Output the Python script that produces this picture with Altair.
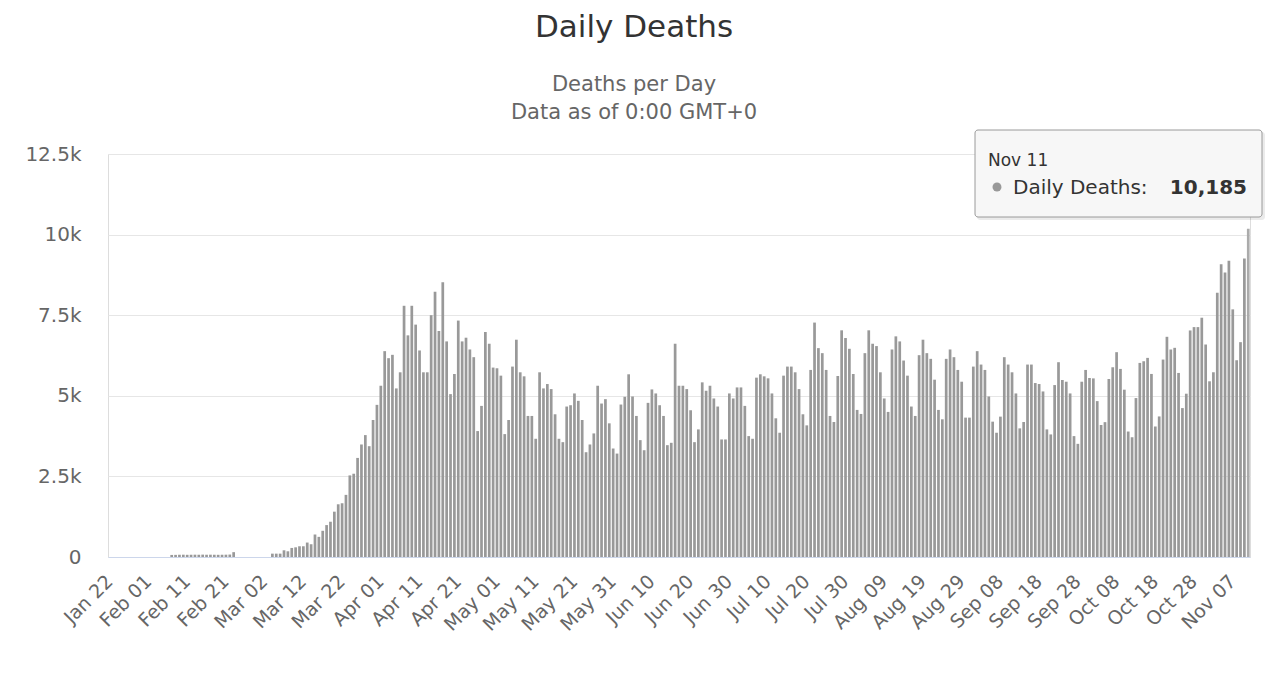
import altair as alt
import pandas as pd

# ---- data ----
JAN = [0, 0, 0, 0, 0, 0, 0, 0, 0, 0]  # Jan 22 - Jan 31
FEB = [0, 0, 0, 0, 0, 0,
       64, 66, 70, 72, 68, 70, 72, 70, 74, 70, 72, 70, 68, 70, 72, 76,
       150, 0, 0, 0, 0, 0, 0]
MAR = [0, 0, 0, 104, 104, 104, 208, 177, 281, 300, 333, 333, 448, 396, 698, 625,
       813, 990, 1094, 1406, 1635, 1667, 1927, 2531, 2583, 3073, 3490, 3781, 3437,
       4250, 4719]
APR = [5312, 6385, 6167, 6271, 5229, 5729, 7792, 6875, 7792, 7208, 6406, 5729, 5729,
       7500, 8229, 7010, 8521, 6687, 5052, 5677, 7333, 6687, 6802, 6437, 6198, 3906,
       4687, 6979, 6615, 5875]
MAY = [5854, 5625, 3812, 4250, 5906, 6740, 5729, 5604, 4375, 4375, 3667, 5729, 5229,
       5365, 5208, 4427, 3667, 3562, 4667, 4708, 5073, 4844, 4250, 3250, 3490, 3833,
       5312, 4760, 4896, 4146, 3365]
JUN = [3208, 4729, 4969, 5667, 4979, 4375, 3625, 3312, 4781, 5198, 5073, 4708, 4375,
       3469, 3542, 6615, 5312, 5312, 5208, 4552, 3562, 3958, 5417, 5156, 5312, 4917,
       4667, 3646, 3646, 5073]
JUL = [4917, 5260, 5260, 4687, 3750, 3667, 5563, 5667, 5604, 5542, 5073, 4302, 3854,
       5625, 5906, 5906, 5729, 5208, 4427, 4083, 5802, 7271, 6479, 6323, 5802, 4375,
       4187, 5615, 7031, 6792, 6458]
AUG = [5677, 4562, 4437, 6323, 7031, 6615, 6542, 5729, 4917, 4500, 6437, 6844, 6687,
       6094, 5625, 4667, 4375, 6260, 6740, 6323, 6146, 5500, 4562, 4271, 6146, 6437,
       6198, 5802, 5437, 4323, 4323]
SEP = [5906, 6385, 5969, 5802, 4979, 4198, 3854, 4354, 6198, 5969, 5729, 5073, 3990,
       4187, 5969, 5969, 5396, 5365, 5135, 3958, 3802, 5333, 6042, 5490, 5437, 5073,
       3750, 3510, 5437, 5802]
OCT = [5552, 5540, 4835, 4095, 4183, 5522, 5885, 6353, 5834, 5190, 3892, 3716, 4930,
       6020, 6072, 6176, 5678, 4048, 4360, 6124, 6830, 6436, 6488, 5709, 4619, 5065,
       7027, 7131, 7131, 7422, 6591]
NOV = [5450, 5730, 8200, 9083, 8823, 9186, 7681, 6103, 6664, 9259, 10185]

TICK_LABELS = ["Jan 22", "Feb 01", "Feb 11", "Feb 21", "Mar 02", "Mar 12", "Mar 22",
               "Apr 01", "Apr 11", "Apr 21", "May 01", "May 11", "May 21", "May 31",
               "Jun 10", "Jun 20", "Jun 30", "Jul 10", "Jul 20", "Jul 30", "Aug 09",
               "Aug 19", "Aug 29", "Sep 08", "Sep 18", "Sep 28", "Oct 08", "Oct 18",
               "Oct 28", "Nov 07"]
Y_TICKS = [0, 2500, 5000, 7500, 10000, 12500]

deaths = JAN + FEB + MAR + APR + MAY + JUN + JUL + AUG + SEP + OCT + NOV
days = [d.strftime("%b %d") for d in pd.date_range("2020-01-22", periods=len(deaths), freq="D")]
df = pd.DataFrame({"day": days, "deaths": deaths})
last_day = days[-1]

FONT = "DejaVu Sans"
W, H = 1142, 403

bars = alt.Chart(df).mark_bar().encode(
    x=alt.X("day:O", sort=days,
            scale=alt.Scale(domain=days, paddingInner=0.3, paddingOuter=0.1),
            axis=alt.Axis(values=TICK_LABELS, labelAngle=-45, labelAlign="right",
                          labelBaseline="middle", labelFontSize=19, labelColor="#666666",
                          labelFont=FONT, labelPadding=21, ticks=False, grid=False,
                          domainColor="#ccd6eb", domainWidth=1, title=None, labelOverlap=False)),
    y=alt.Y("deaths:Q",
            scale=alt.Scale(domain=[0, 12500], nice=False),
            axis=alt.Axis(values=Y_TICKS,
                          labelExpr="datum.value == 0 ? '0' : (datum.value / 1000) + 'k'",
                          labelFontSize=20, labelColor="#666666", labelFont=FONT,
                          labelPadding=27, ticks=False, domain=False, grid=True,
                          gridColor="#e6e6e6", gridWidth=1, title=None)),
    color=alt.condition(alt.datum.day == last_day, alt.value("#ababab"), alt.value("#999999")),
)

tip_df = pd.DataFrame({"date": [last_day],
                       "label": ["Daily Deaths: "],
                       "value": [f"{deaths[-1]:,}"]})

shadow = alt.Chart(tip_df).mark_rect(cornerRadius=3, fill="#000000", fillOpacity=0.08).encode(
    x=alt.value(869), x2=alt.value(1157), y=alt.value(-22), y2=alt.value(66))
box = alt.Chart(tip_df).mark_rect(cornerRadius=3, fill="#f7f7f7", stroke="#9a9a9a",
                                  strokeWidth=1).encode(
    x=alt.value(867), x2=alt.value(1154), y=alt.value(-24), y2=alt.value(63))
tip_date = alt.Chart(tip_df).mark_text(align="left", baseline="alphabetic", font=FONT,
                                       fontSize=17, color="#333333").encode(
    x=alt.value(880), y=alt.value(12), text="date:N")
tip_dot = alt.Chart(tip_df).mark_point(filled=True, size=80, color="#999999", opacity=1).encode(
    x=alt.value(889), y=alt.value(33))
tip_label = alt.Chart(tip_df).mark_text(align="left", baseline="alphabetic", font=FONT,
                                        fontSize=20, color="#333333").encode(
    x=alt.value(905), y=alt.value(40), text="label:N")
tip_value = alt.Chart(tip_df).mark_text(align="right", baseline="alphabetic", font=FONT,
                                        fontSize=20, fontWeight="bold", color="#333333").encode(
    x=alt.value(1139), y=alt.value(40), text="value:N")

chart = alt.layer(bars, shadow, box, tip_date, tip_dot, tip_label, tip_value).properties(
    width=W, height=H,
    padding={"left": 100, "top": 146, "right": 20, "bottom": 108},
    autosize=alt.AutoSizeParams(type="none"),
    title=alt.TitleParams(
        text="Daily Deaths",
        subtitle=["Deaths per Day", "Data as of 0:00 GMT+0"],
        font=FONT, fontSize=31, fontWeight="normal", color="#333333",
        subtitleFont=FONT, subtitleFontSize=21, subtitleColor="#666666",
        subtitleLineHeight=28, subtitlePadding=30,
        anchor="middle", frame="group", dx=-45, offset=6,
    ),
).configure_view(stroke=None).configure(background="white")

chart.save("out.html", embed_options={"renderer": "svg", "actions": False})
